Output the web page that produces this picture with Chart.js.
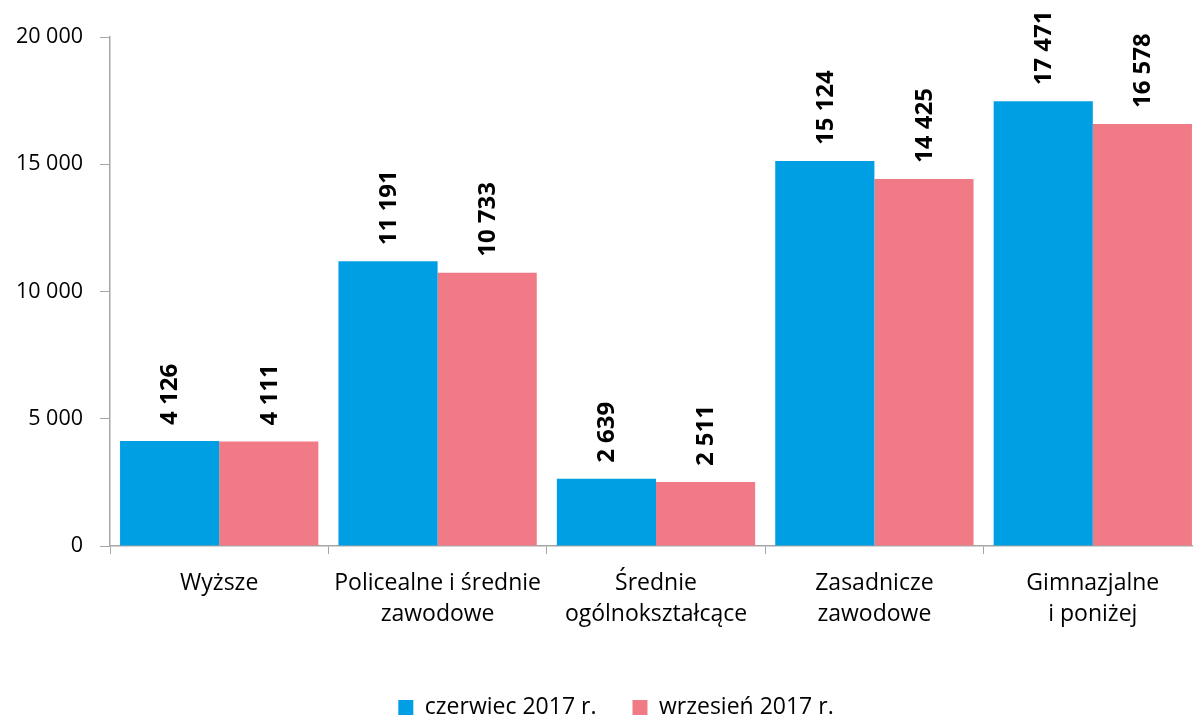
<!DOCTYPE html>
<html>
<head>
<meta charset="utf-8">
<script src="https://cdn.jsdelivr.net/npm/chart.js@4/dist/chart.umd.min.js"></script>
<style>
  html, body { margin: 0; padding: 0; background: #ffffff; overflow: hidden; }
  body { width: 1193px; height: 716px; }
  #wrap { width: 1202px; height: 716px; }
</style>
</head>
<body>
<div id="wrap"><canvas id="chart"></canvas></div>
<script>
// Chart data
const categories = [
    'Wyższe',
    ['Policealne i średnie', 'zawodowe'],
    ['Średnie', 'ogólnokształcące'],
    ['Zasadnicze', 'zawodowe'],
    ['Gimnazjalne', 'i poniżej']
];
const juneLabel = 'czerwiec 2017 r.';
const septLabel = 'wrzesień 2017 r.';
const juneValues = [4126, 11191, 2639, 15124, 17471];
const septValues = [4111, 10733, 2511, 14425, 16578];
const yTicks = [0, 5000, 10000, 15000, 20000];

const FONT = "'Open Sans', sans-serif";
const axisColor = '#a6a6a6';

// 20000 -> "20 000"
function formatNumber(v) {
    return String(v).replace(/\B(?=(\d{3})+(?!\d))/g, ' ');
}

// Draw rotated value labels above the bars
const barLabels = {
    id: 'barLabels',
    afterDatasetsDraw(chart) {
        const ctx = chart.ctx;
        ctx.save();
        ctx.font = "bold 24px " + FONT;
        ctx.fillStyle = '#000000';
        ctx.textAlign = 'left';
        ctx.textBaseline = 'middle';
        chart.data.datasets.forEach((ds, i) => {
            const meta = chart.getDatasetMeta(i);
            meta.data.forEach((bar, j) => {
                ctx.save();
                ctx.translate(bar.x, bar.y - 16);
                ctx.rotate(-Math.PI / 2);
                ctx.fillText(formatNumber(ds.data[j]), 0, 1);
                ctx.restore();
            });
        });
        ctx.restore();
    }
};

// Nudge the legend a little to the right, like the original
const legendShift = {
    id: 'legendShift',
    afterLayout(chart) {
        if (chart.legend) {
            chart.legend.left += 15;
            chart.legend.right += 15;
        }
    }
};

const chart = new Chart(document.getElementById('chart'), {
    type: 'bar',
    data: {
        labels: categories,
        datasets: [
            { label: juneLabel, data: juneValues, backgroundColor: '#009fe3', borderWidth: 0 },
            { label: septLabel, data: septValues, backgroundColor: '#f07a86', borderWidth: 0 }
        ]
    },
    options: {
        responsive: true,
        maintainAspectRatio: false,
        animation: false,
        devicePixelRatio: 1,
        layout: { padding: { top: 37, right: 0, bottom: 0, left: 0 } },
        datasets: {
            bar: { categoryPercentage: 0.908, barPercentage: 1.0 }
        },
        plugins: {
            legend: {
                position: 'bottom',
                maxHeight: 56,
                labels: {
                    font: { family: FONT, size: 23 },
                    color: '#000000',
                    boxWidth: 15,
                    boxHeight: 15,
                    padding: 36
                }
            },
            tooltip: { enabled: false }
        },
        scales: {
            x: {
                grid: { display: true, drawOnChartArea: false, drawTicks: true, tickLength: 8, color: axisColor, offset: true },
                border: { display: true, color: axisColor, width: 1.5 },
                ticks: {
                    font: { family: FONT, size: 23, lineHeight: 1.35 },
                    color: '#000000',
                    padding: 14,
                    maxRotation: 0,
                    autoSkip: false
                },
                afterFit(scale) { scale.height = 114; }
            },
            y: {
                min: 0,
                max: 20000,
                afterBuildTicks(scale) { scale.ticks = yTicks.map(v => ({ value: v })); },
                grid: { display: true, drawOnChartArea: false, drawTicks: true, tickLength: 10, color: axisColor },
                border: { display: true, color: axisColor, width: 1.5 },
                ticks: {
                    font: { family: FONT, size: 21.5 },
                    color: '#000000',
                    padding: 17,
                    callback: (v) => formatNumber(v)
                },
                afterFit(scale) { scale.width = 110; }
            }
        }
    },
    plugins: [barLabels, legendShift]
});
</script>
</body>
</html>
